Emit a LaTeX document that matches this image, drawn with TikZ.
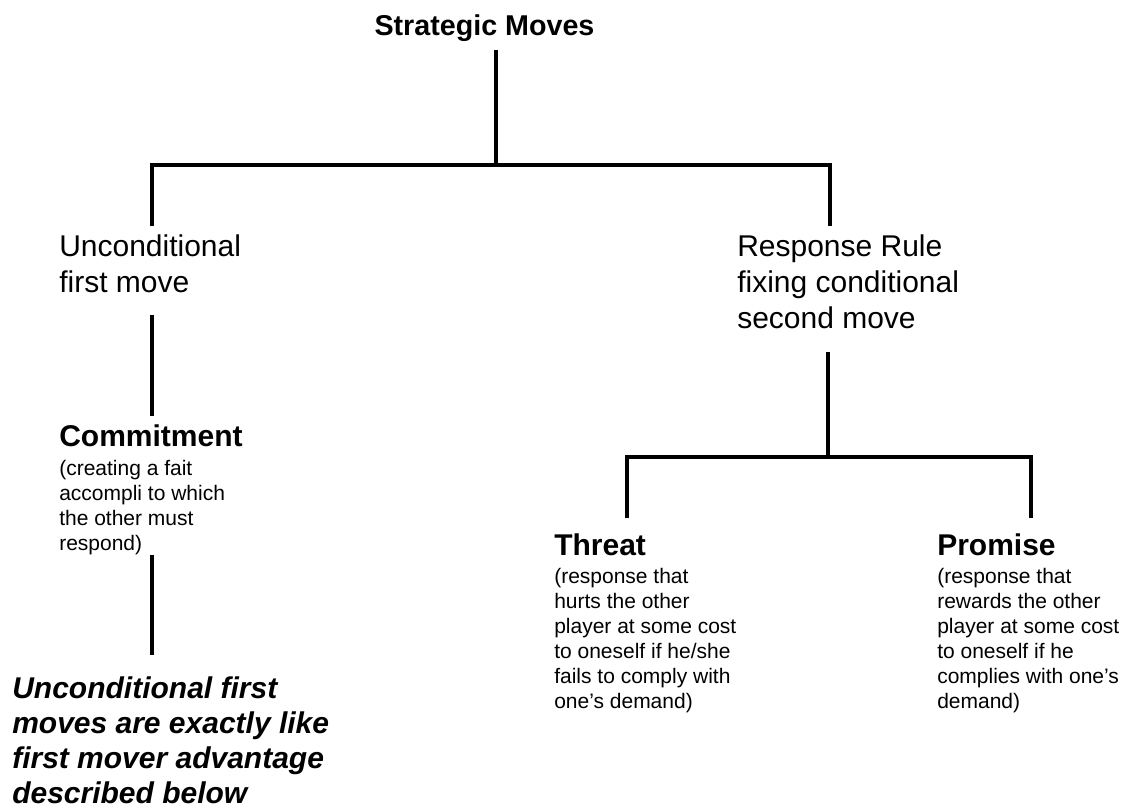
\documentclass[tikz,border=0pt]{standalone}
\usepackage{fontspec}
\setmainfont{Liberation Sans}
\usepackage{tikz}

\begin{document}
\begin{tikzpicture}[x=0.75pt,y=-0.75pt,
    title/.style={anchor=base,inner sep=0pt,font=\bfseries\fontsize{21.5}{24}\selectfont},
    head/.style={anchor=base west,inner sep=0pt,font=\bfseries\fontsize{22.5}{27}\selectfont},
    main/.style={anchor=north west,inner sep=0pt,align=left,font=\fontsize{22.5}{27}\selectfont},
    note/.style={anchor=north west,inner sep=0pt,align=left,font=\fontsize{15.75}{18.75}\selectfont},
    moral/.style={anchor=north west,inner sep=0pt,align=left,font=\bfseries\itshape\fontsize{22.5}{26.4}\selectfont},
    branch/.style={line width=2.4pt}]
    \useasboundingbox (0,0) rectangle (1121,810);

    % Define the nodes
    \node[title] (moves) at (484.5,35) {Strategic Moves};
    \node[main] (uncond) at (59,234.3) {Unconditional\\first move};
    \node[main] (resp) at (737,234.3) {Response Rule\\fixing conditional\\second move};
    \node[head] (commit) at (59,446) {Commitment};
    \node[note] (commitnote) at (59,459.7) {(creating a fait\\accompli to which\\the other must\\respond)};
    \node[moral] (moral) at (12,676) {Unconditional first\\moves are exactly like\\first mover advantage\\described below};
    \node[head] (threat) at (554,555) {Threat};
    \node[note] (threatnote) at (554,567.7) {(response that\\hurts the other\\player at some cost\\to oneself if he/she\\fails to comply with\\one’s demand)};
    \node[head] (promise) at (937,555) {Promise};
    \node[note] (promisenote) at (937,567.7) {(response that\\rewards the other\\player at some cost\\to oneself if he\\complies with one’s\\demand)};

    % Define the branch points
    \coordinate (root) at (496,165);
    \coordinate (left) at (152,165);
    \coordinate (right) at (830,165);
    \coordinate (mid) at (828,457);
    \coordinate (tl) at (627,457);
    \coordinate (tr) at (1031,457);

    % Draw the tree
    \draw[branch] ([yshift=-6.5pt]moves.south -| root) -- (root);
    \draw[branch] ([yshift=6pt]uncond.north -| left) |- (root) -| ([yshift=6pt]resp.north -| right);
    \draw[branch] ([yshift=-16.5pt]uncond.south -| left) -- ([yshift=6pt]commit.north -| left);
    \draw[branch] (commitnote.south -| left) -- ([yshift=16pt]moral.north -| left);
    \draw[branch] ([yshift=-17pt]resp.south -| mid) -- (mid);
    \draw[branch] ([yshift=11pt]threat.north -| tl) |- (mid) -| ([yshift=11pt]promise.north -| tr);
\end{tikzpicture}
\end{document}
